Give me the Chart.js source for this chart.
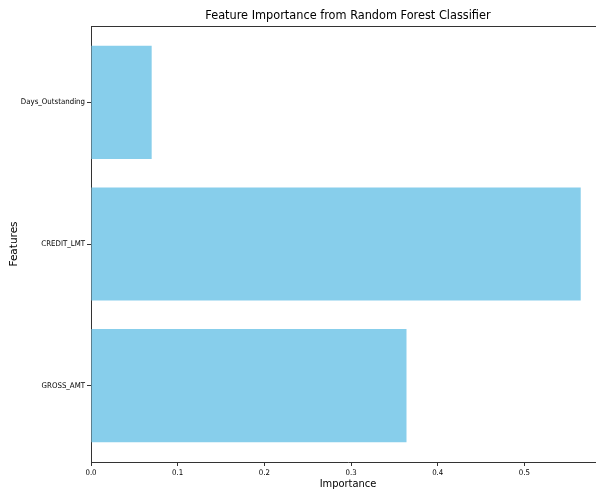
<!DOCTYPE html>
<html>
<head>
<meta charset="utf-8">
<script src="https://cdn.jsdelivr.net/npm/chart.js@4"></script>
<style>
  html, body { margin: 0; padding: 0; background: #fff; overflow: hidden; }
  canvas { display: block; }
</style>
</head>
<body>
<!-- the original figure is cut off on the right, so the canvas runs past the window -->
<canvas id="fiChart" width="606" height="491"></canvas>
<script>
// values (bottom to top)
const features = ['GROSS_AMT', 'CREDIT_LMT', 'Days_Outstanding'];
const importance = [0.364, 0.565, 0.070];
const xTicks = [0, 0.1, 0.2, 0.3, 0.4, 0.5];
const chartTitle = 'Feature Importance from Random Forest Classifier';

const FONT = "'DejaVu Sans Condensed', 'DejaVu Sans', sans-serif";

// top spine + title centred over the axes (matplotlib style)
const axesDecor = {
    id: 'axesDecor',
    afterDraw(chart) {
        const { ctx, chartArea } = chart;
        ctx.save();
        ctx.strokeStyle = '#333';
        ctx.lineWidth = 1;
        ctx.beginPath();
        ctx.moveTo(chartArea.left, chartArea.top + 0.5);
        ctx.lineTo(chartArea.right, chartArea.top + 0.5);
        ctx.stroke();

        ctx.fillStyle = '#000';
        ctx.font = '12.6px ' + FONT;
        ctx.textAlign = 'center';
        ctx.textBaseline = 'middle';
        ctx.fillText(chartTitle, (chartArea.left + chartArea.right) / 2, 16);
        ctx.restore();
    }
};

const ctx = document.getElementById('fiChart').getContext('2d');
new Chart(ctx, {
    type: 'bar',
    data: {
        datasets: [{
            data: features.map((f, i) => ({ x: importance[i], y: i })),
            backgroundColor: '#87CEEB',
            borderWidth: 0,
            categoryPercentage: 0.8,
            barPercentage: 1.0
        }]
    },
    options: {
        indexAxis: 'y',
        responsive: false,
        animation: false,
        layout: { padding: { left: 0, right: 1, top: 26, bottom: 0 } },
        plugins: {
            legend: { display: false },
            tooltip: { enabled: false },
            title: { display: false }
        },
        scales: {
            x: {
                type: 'linear',
                min: 0,
                max: 0.593,
                afterBuildTicks: s => { s.ticks = xTicks.map(v => ({ value: v })); },
                afterFit: s => { s.height = 29; },
                grid: { drawOnChartArea: false, drawTicks: true, tickLength: 4, tickColor: '#333' },
                border: { display: true, color: '#333', width: 1 },
                ticks: {
                    color: '#000',
                    padding: 2,
                    maxRotation: 0,
                    font: { family: FONT, size: 7.8 },
                    callback: v => v.toFixed(1)
                },
                title: {
                    display: true,
                    text: 'Importance',
                    color: '#000',
                    font: { family: FONT, size: 11 },
                    padding: { top: 0, bottom: 0 }
                }
            },
            y: {
                type: 'linear',
                offset: false,
                min: -0.54,
                max: 2.54,
                afterBuildTicks: s => { s.ticks = features.map((f, i) => ({ value: i })); },
                afterFit: s => { s.width = 91; },
                grid: { offset: false, drawOnChartArea: false, drawTicks: true, tickLength: 4, tickColor: '#333' },
                border: { display: true, color: '#333', width: 1 },
                ticks: {
                    color: '#000',
                    padding: 2,
                    font: { family: FONT, size: 7.8 },
                    callback: v => features[v]
                },
                title: {
                    display: true,
                    text: 'Features',
                    color: '#000',
                    font: { family: "'DejaVu Sans', sans-serif", size: 10.5 },
                    padding: { top: 8, bottom: 0 }
                }
            }
        }
    },
    plugins: [axesDecor]
});
</script>
</body>
</html>
